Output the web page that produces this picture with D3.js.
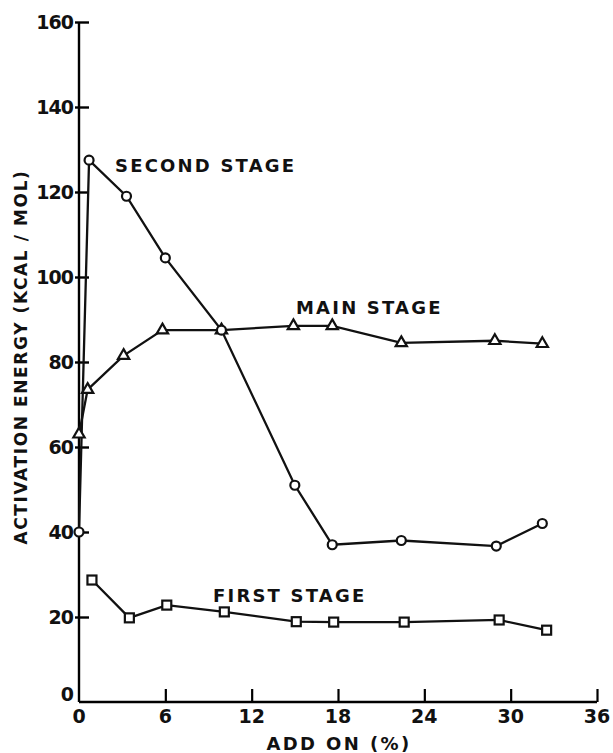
<!DOCTYPE html>
<html>
<head>
<meta charset="utf-8">
<script src="https://cdn.jsdelivr.net/npm/d3@7"></script>
<style>
  body { margin: 0; background: #fff; }
  text { font-family: "DejaVu Sans", "Liberation Sans", sans-serif; font-weight: bold; fill: #111; }
</style>
</head>
<body>
<div id="chart"></div>
<script>
// data (add on %, kcal/mol)
var secondX = [0, 0.7, 3.3, 6.0, 9.9, 15.0, 17.6, 22.4, 29.0, 32.2];
var secondY = [40, 127.5, 119, 104.5, 87.5, 51, 37, 38, 36.7, 42];

var mainX = [0, 0.6, 3.1, 5.8, 9.9, 14.9, 17.6, 22.4, 28.9, 32.2];
var mainY = [63, 73.5, 81.5, 87.5, 87.5, 88.5, 88.5, 84.5, 85, 84.3];

var firstX = [0.9, 3.5, 6.1, 10.1, 15.1, 17.7, 22.6, 29.2, 32.5];
var firstY = [28.7, 19.8, 22.8, 21.2, 18.9, 18.8, 18.8, 19.3, 16.9];

var xTicks = [0, 6, 12, 18, 24, 30, 36];
var yTicks = [0, 20, 40, 60, 80, 100, 120, 140, 160];

var W = 613, H = 753;

var svg = d3.select("#chart").append("svg")
    .attr("width", W)
    .attr("height", H);

var x = d3.scaleLinear().domain([0, 36]).range([79, 597]);
var y = d3.scaleLinear().domain([0, 160]).range([702, 22]);

var toPts = (xs, ys) => xs.map((v, i) => ({x: v, y: ys[i]}));
var second = toPts(secondX, secondY),
    main = toPts(mainX, mainY),
    first = toPts(firstX, firstY);

var line = d3.line().x(d => x(d.x)).y(d => y(d.y));

// axes
var yAxis = svg.append("g").attr("transform", "translate(" + x(0) + ",0)")
  .call(d3.axisRight(y).tickValues(yTicks.filter(d => d > 0)).tickSize(10).tickFormat(""));
yAxis.select(".domain").attr("d", "M0," + y(0) + "V" + y(160)).attr("stroke-width", 2.4);
yAxis.selectAll(".tick line").attr("x1", -4).attr("stroke-width", 2.4);

var xAxis = svg.append("g").attr("transform", "translate(0," + y(0) + ")")
  .call(d3.axisTop(x).tickValues(xTicks.filter(d => d > 0)).tickSize(13).tickFormat(""));
xAxis.select(".domain").attr("d", "M" + x(0) + ",0H" + x(36)).attr("stroke-width", 2.4);
xAxis.selectAll(".tick line").attr("stroke-width", 2.2);

// tick labels
svg.selectAll(".ylab").data(yTicks).enter().append("text")
  .attr("class", "ylab")
  .attr("x", 73)
  .attr("y", d => y(d) + (d == 0 ? -1 : 7))
  .attr("text-anchor", "end")
  .style("font-size", "19px")
  .style("letter-spacing", "-1px")
  .text(d => d);

svg.selectAll(".xlab").data(xTicks).enter().append("text")
  .attr("class", "xlab")
  .attr("x", d => x(d))
  .attr("y", y(0) + 21)
  .attr("text-anchor", "middle")
  .style("font-size", "19px")
  .text(d => d);

// axis titles
svg.append("text")
  .attr("transform", "translate(27,357) rotate(-90)")
  .attr("text-anchor", "middle")
  .style("font-size", "17px")
  .style("letter-spacing", "1.6px")
  .text("ACTIVATION ENERGY (KCAL / MOL)");

svg.append("text")
  .attr("x", 339)
  .attr("y", 750)
  .attr("text-anchor", "middle")
  .style("font-size", "18px")
  .style("letter-spacing", "2.4px")
  .text("ADD ON (%)");

// series lines
[second, main, first].forEach(s => {
  svg.append("path")
    .attr("d", line(s))
    .attr("fill", "none")
    .attr("stroke", "#111")
    .attr("stroke-width", 2.3);
});

// markers
svg.selectAll(".tri").data(main).enter().append("path")
  .attr("class", "tri")
  .attr("transform", d => "translate(" + x(d.x) + "," + y(d.y) + ")")
  .attr("d", d3.symbol(d3.symbolTriangle, 55))
  .attr("fill", "#fff").attr("stroke", "#111").attr("stroke-width", 2.2);

svg.selectAll(".sq").data(first).enter().append("rect")
  .attr("class", "sq")
  .attr("x", d => x(d.x) - 4.5).attr("y", d => y(d.y) - 4.5)
  .attr("width", 9).attr("height", 9)
  .attr("fill", "#fff").attr("stroke", "#111").attr("stroke-width", 2.2);

svg.selectAll(".circ").data(second).enter().append("circle")
  .attr("class", "circ")
  .attr("cx", d => x(d.x)).attr("cy", d => y(d.y))
  .attr("r", 4.5)
  .attr("fill", "#fff").attr("stroke", "#111").attr("stroke-width", 2.2);

// series labels
var labels = [
  {t: "SECOND STAGE", x: 115, y: 172},
  {t: "MAIN STAGE", x: 296, y: 314},
  {t: "FIRST STAGE", x: 213, y: 602}
];
svg.selectAll(".slab").data(labels).enter().append("text")
  .attr("class", "slab")
  .attr("x", d => d.x).attr("y", d => d.y)
  .style("font-size", "18px")
  .style("letter-spacing", "2.2px")
  .text(d => d.t);
</script>
</body>
</html>
